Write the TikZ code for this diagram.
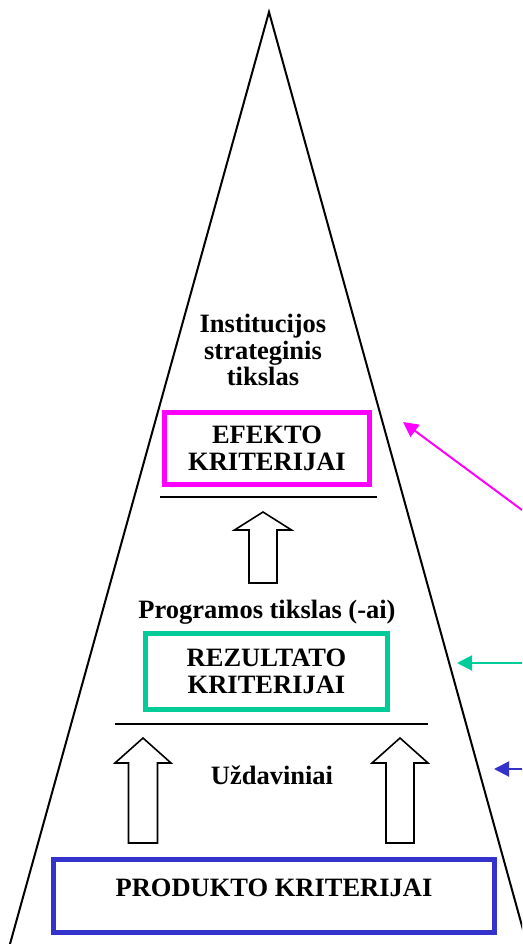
\documentclass[tikz,border=0pt]{standalone}
\usepackage{fontspec}
\setmainfont{Liberation Serif}
\usetikzlibrary{arrows.meta}

\definecolor{efekto}{RGB}{255,0,255}
\definecolor{rezultato}{RGB}{0,204,153}
\definecolor{produkto}{RGB}{51,51,204}

% tip x, tip y, half head width, head length, half shaft width, total length
\newcommand{\blockup}[6]{%
	\draw[blockarrow] (#1,#2) -- ++(#3,#4) -- ++(-#3+#5,0) -- ++(0,#6-#4)
		-- ++(-2*#5,0) -- ++(0,-#6+#4) -- ++(-#3+#5,0) -- cycle;}

\begin{document}
\begin{tikzpicture}[x=1pt,y=-1pt]
		\tikzset{level/.style={font=\bfseries\fontsize{26.5}{26.5}\selectfont, align=center, inner sep=0pt}}
		\tikzset{criteria/.style={level, draw, line width=5pt}}
		\tikzset{pointer/.style={line width=2pt, -{Triangle[length=15pt,width=15pt]}}}
		\tikzset{blockarrow/.style={draw, line width=1.6pt, fill=white}}
		\tikzset{divider/.style={line width=2.4pt}}
		\clip (0,0) rectangle (522,944);
		% pyramid
		\draw[line width=2pt] (10,944) -- (269,12) -- (527,944);
		% levels
		\node[level] (tikslas) at (263,350) {Institucijos\\strateginis\\tikslas};
		\node[criteria, draw=efekto, minimum width=205pt, minimum height=72pt] (efekto) at (267,448.5) {EFEKTO\\KRITERIJAI};
		\draw[divider] (160,497) -- (377,497);
		\blockup{263}{512}{28.5}{18}{14}{71}
		\node[level, anchor=base] (programos) at (267,618) {Programos tikslas (-ai)};
		\node[criteria, draw=rezultato, minimum width=242pt, minimum height=76pt] (rezultato) at (266.5,671.5) {REZULTATO\\KRITERIJAI};
		\draw[divider] (115,724) -- (428,724);
		\blockup{143}{738}{28}{25}{14.5}{105}
		\blockup{400}{738}{28}{25}{14}{105}
		\node[level, anchor=base] (uzdaviniai) at (272,784) {Uždaviniai};
		\node[criteria, draw=produkto, minimum width=441pt, minimum height=73pt, text height=22pt, text depth=22pt] (produkto) at (274,896) {PRODUKTO KRITERIJAI};
		% pointers from the margin
		\coordinate (efekto in) at (522,510);
		\coordinate (efekto tip) at (403,422);
		\coordinate (rezultato in) at (522,663);
		\coordinate (rezultato tip) at (457,663);
		\coordinate (produkto in) at (522,769);
		\coordinate (produkto tip) at (494,769);
		\draw[pointer, efekto] (efekto in) -- (efekto tip);
		\draw[pointer, rezultato] (rezultato in) -- (rezultato tip);
		\draw[pointer, produkto] (produkto in) -- (produkto tip);
\end{tikzpicture}
\end{document}
